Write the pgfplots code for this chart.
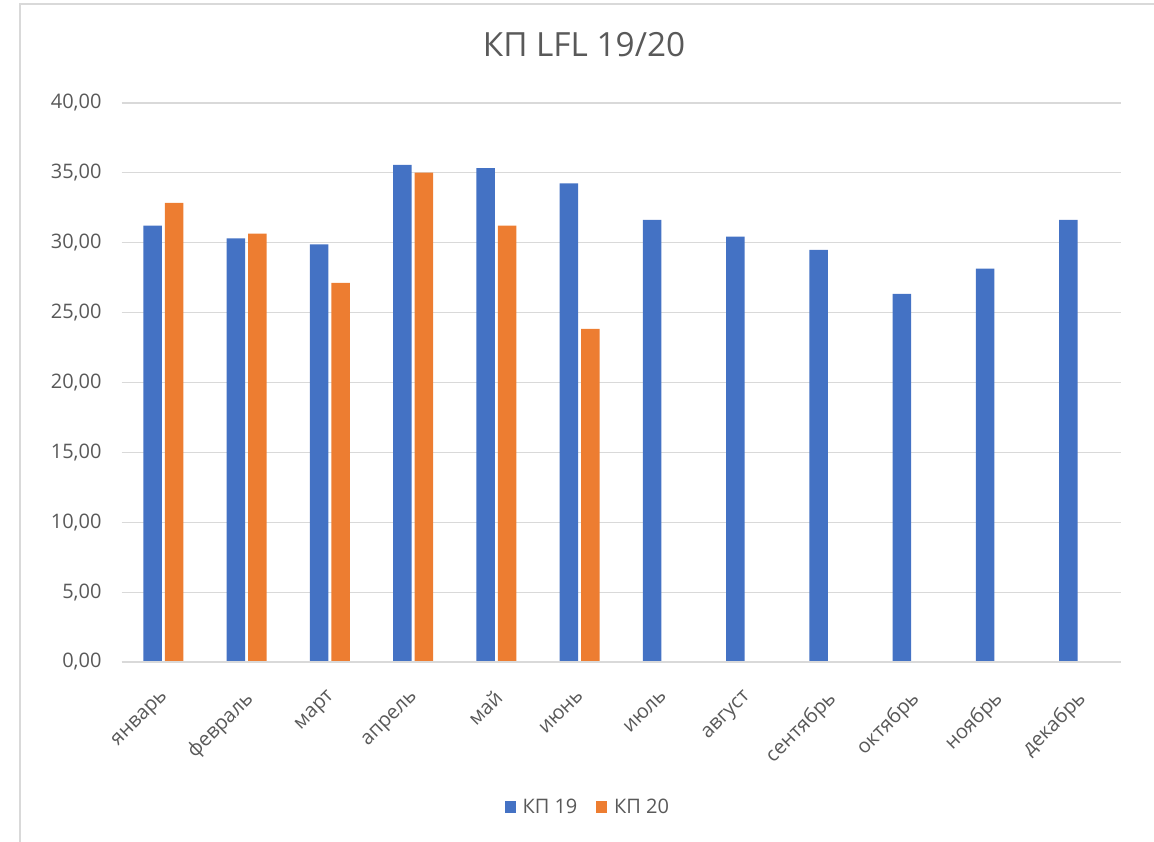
\documentclass[border=0pt]{standalone}
\usepackage{fontspec}
\setmainfont{Open Sans}
\usepackage{pgfplots}
\pgfplotsset{compat=1.18}
\definecolor{kpblue}{HTML}{4472C4}
\definecolor{kporange}{HTML}{ED7D31}
\definecolor{gridgray}{HTML}{D9D9D9}
\definecolor{txtgray}{HTML}{595959}
\begin{document}
\begin{tikzpicture}
\path[use as bounding box] (0,0) rectangle (865.5pt,631.5pt);
\draw[gridgray, line width=1.2pt] (15pt,0pt) -- (15pt,628.5pt) -- (865.5pt,628.5pt);
\begin{axis}[
  scale only axis,
  width=749.25pt, height=419.25pt,
  at={(91.3pt,135pt)}, anchor=south west,
  xmin=-0.5, xmax=11.5, ymin=0, ymax=40,
  ytick={0,5,...,40},
  xtick={0,...,11},
  xticklabels={январь,февраль,март,апрель,май,июнь,июль,август,сентябрь,октябрь,ноябрь,декабрь},
  ymajorgrids,
  grid style={draw=gridgray, line width=0.9pt},
  axis line style={draw=none},
  major tick length=0pt,
  tick style={draw=none},
  ticklabel style={font=\fontsize{15}{18}\selectfont, text=txtgray},
  /pgf/number format/.cd, fixed, fixed zerofill, precision=2, use comma, assume math mode=true,
  /pgfplots/.cd,
  yticklabel style={anchor=east, inner sep=0pt, xshift=-15pt},
  xticklabel style={xshift=-2.5pt, yshift=-20pt, rotate=45, anchor=north east, inner sep=0pt},
  ybar=2.25pt, bar width=13.9pt,
  legend style={at={(0.4668,-0.2594)}, anchor=center, draw=none, fill=none,
    legend columns=2, font=\fontsize{15}{18}\selectfont, text=txtgray,
    /tikz/every odd column/.append style={column sep=3pt},
    /tikz/every even column/.append style={column sep=12pt}},
  legend image code/.code={\fill[#1] (0pt,-4.25pt) rectangle (8.5pt,4.25pt);},
]
\addplot[fill=kpblue, draw=none] coordinates {
 (0,31.23) (1,30.32) (2,29.89) (3,35.58) (4,35.34) (5,34.24)
 (6,31.64) (7,30.44) (8,29.49) (9,26.34) (10,28.15) (11,31.64)};
\addplot[fill=kporange, draw=none] coordinates {
 (0,32.86) (1,30.66) (2,27.13) (3,35.01) (4,31.23) (5,23.83)};
\legend{КП 19, КП 20}
\draw[gridgray, line width=0.9pt] (axis cs:-0.5,0) -- (axis cs:11.5,0);
\end{axis}
\node[font=\fontsize{25}{30}\selectfont, text=txtgray] at (438pt,597.75pt) {КП LFL 19/20};
\end{tikzpicture}
\end{document}
